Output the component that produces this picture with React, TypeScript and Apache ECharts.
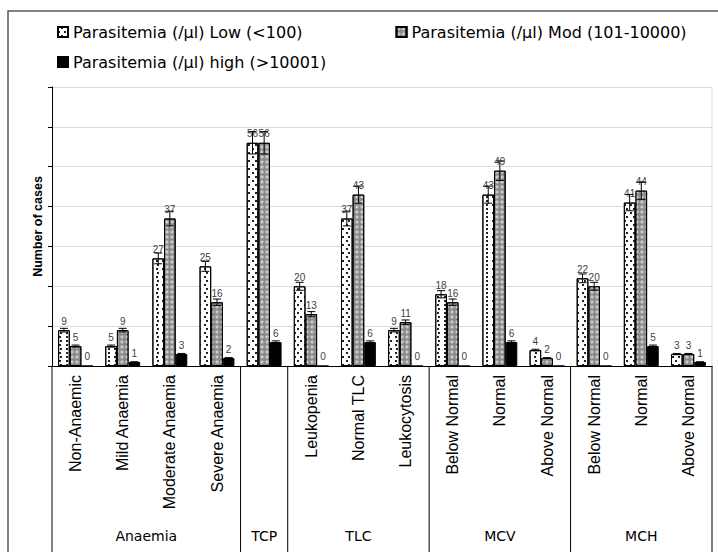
import React, { useEffect, useRef } from "react";
import * as echarts from "echarts";

const categories = [
  "Non-Anaemic", "Mild Anaemia", "Moderate Anaemia", "Severe Anaemia",
  "",
  "Leukopenia", "Normal TLC", "Leukocytosis",
  "Below Normal", "Normal", "Above Normal",
  "Below Normal", "Normal", "Above Normal",
];
const groupNames = ["Anaemia", "TCP", "TLC", "MCV", "MCH"];
const groupSizes = [4, 1, 3, 3, 3];

const seriesNames = [
  "Parasitemia (/µl) Low (<100)",
  "Parasitemia (/µl) Mod (101-10000)",
  "Parasitemia (/µl) high (>10001)",
];
const lowValues = [9, 5, 27, 25, 56, 20, 37, 9, 18, 43, 4, 22, 41, 3];
const modValues = [5, 9, 37, 16, 56, 13, 43, 11, 16, 49, 2, 20, 44, 3];
const highValues = [0, 1, 3, 2, 6, 0, 6, 0, 0, 6, 0, 0, 5, 1];
const errorPercent = 0.05; // Excel "percentage" error bars (5%)

const yMin = 0;
const yMax = 70;
const yInterval = 10;

const GAP = 0.26;

export default function App() {
  const ref = useRef<HTMLDivElement>(null);

  useEffect(() => {
    if (!ref.current) return;
    const chart = echarts.init(ref.current, undefined, { renderer: "svg" });

    const labelCommon = {
      show: true,
      position: "top" as const,
      distance: 4,
      fontSize: 10,
      color: "#404040",
      fontFamily: "Liberation Sans, Arial, sans-serif",
    };

    const lowStyle = {
      color: "#ffffff",
      borderColor: "#000000",
      borderWidth: 1,
      decal: {
        symbol: "rect",
        symbolSize: 1,
        color: "#222222",
        dashArrayX: [[1.4, 3.6], [0, 2.5, 1.4, 1.1]],
        dashArrayY: [1.4, 1.8],
        rotation: 0,
      },
    };
    const modStyle = {
      color: "#8a8a8a",
      borderColor: "#000000",
      borderWidth: 1,
      decal: {
        symbol: "circle",
        symbolSize: 0.8,
        color: "rgba(255,255,255,0.55)",
        dashArrayX: [4, 1],
        dashArrayY: [4, 1],
        rotation: 0,
      },
    };
    const highStyle = { color: "#000000", borderColor: "#000000", borderWidth: 1 };

    const errData = categories.map((_, i) => [i, lowValues[i], modValues[i], highValues[i]]);

    const legendText = {
      fontFamily: "DejaVu Sans, sans-serif",
      fontSize: 16,
      color: "#000000",
    };

    chart.setOption({
      animation: false,
      backgroundColor: "#ffffff",
      legend: [
        {
          data: [seriesNames[0], seriesNames[1]],
          left: 52,
          top: 19,
          itemWidth: 10,
          itemHeight: 10,
          itemGap: 93,
          icon: "rect",
          textStyle: legendText,
          selectedMode: false,
        },
        {
          data: [seriesNames[2]],
          left: 52,
          top: 49,
          itemWidth: 10,
          itemHeight: 10,
          icon: "rect",
          textStyle: legendText,
          selectedMode: false,
        },
      ],
      grid: { left: 52, right: 6, top: 87, bottom: 186, containLabel: false },
      xAxis: {
        type: "category",
        data: categories,
        axisLine: { show: true, lineStyle: { color: "#000000", width: 1 } },
        axisTick: { show: false },
        axisLabel: {
          rotate: 90,
          interval: 0,
          margin: 9,
          fontSize: 16,
          color: "#000000",
          fontFamily: "Liberation Sans, Arial, sans-serif",
        },
        splitLine: { show: false },
      },
      yAxis: {
        type: "value",
        min: yMin,
        max: yMax,
        interval: yInterval,
        name: "Number of cases",
        nameLocation: "middle",
        nameGap: 8,
        nameTextStyle: {
          fontFamily: "Liberation Sans, Arial, sans-serif",
          fontWeight: "bold",
          fontSize: 12.5,
          color: "#000000",
        },
        axisLine: { show: true, lineStyle: { color: "#000000", width: 1 } },
        axisTick: { show: true, inside: false, length: 4, lineStyle: { color: "#000000" } },
        axisLabel: { show: false },
        splitLine: { show: true, lineStyle: { color: "#d9d9d9", width: 1 } },
      },
      series: [
        {
          name: seriesNames[0],
          type: "bar",
          data: lowValues,
          barGap: "0%",
          barCategoryGap: `${GAP * 100}%`,
          itemStyle: lowStyle,
          label: labelCommon,
        },
        {
          name: seriesNames[1],
          type: "bar",
          data: modValues,
          barGap: "0%",
          barCategoryGap: `${GAP * 100}%`,
          itemStyle: modStyle,
          label: labelCommon,
        },
        {
          name: seriesNames[2],
          type: "bar",
          data: highValues,
          barGap: "0%",
          barCategoryGap: `${GAP * 100}%`,
          itemStyle: highStyle,
          label: labelCommon,
        },
        {
          type: "custom",
          name: "errors",
          data: errData,
          encode: { x: 0, y: 1 },
          z: 5,
          silent: true,
          renderItem: (params: any, api: any) => {
            const i = api.value(0);
            const band = api.size([1, 0])[0];
            const barW = (band * (1 - GAP)) / 3;
            const cx0 = api.coord([i, 0])[0];
            const children: any[] = [];
            const cap = 4;
            for (let s = 0; s < 3; s++) {
              const v = api.value(s + 1);
              if (!v) continue;
              const e = v * errorPercent;
              const x = cx0 + (s - 1) * barW;
              const yTop = api.coord([i, v + e])[1];
              const yBot = api.coord([i, v - e])[1];
              const st = { stroke: "#000000", lineWidth: 1 };
              children.push({ type: "line", shape: { x1: x, y1: yTop, x2: x, y2: yBot }, style: st });
              children.push({ type: "line", shape: { x1: x - cap, y1: yTop, x2: x + cap, y2: yTop }, style: st });
              children.push({ type: "line", shape: { x1: x - cap, y1: yBot, x2: x + cap, y2: yBot }, style: st });
            }
            return { type: "group", children };
          },
        },
      ],
    });

    // group separators and labels, from the axis scale
    const xPix = (i: number) => chart.convertToPixel({ xAxisIndex: 0 }, i) as number;
    const band = xPix(1) - xPix(0);
    const y0 = chart.convertToPixel({ yAxisIndex: 0 }, yMin) as number;
    const yTopPix = chart.convertToPixel({ yAxisIndex: 0 }, yMax) as number;
    const bounds: number[] = [xPix(0) - band / 2];
    let idx = 0;
    groupSizes.forEach((n) => {
      idx += n;
      bounds.push(xPix(idx - 1) + band / 2);
    });
    const graphics: any[] = [
      {
        type: "rect",
        shape: { x: 8, y: 11, width: 760, height: 600 },
        style: { fill: "none", stroke: "#595959", lineWidth: 1.5 },
        silent: true,
      },
      {
        type: "line",
        shape: { x1: bounds[bounds.length - 1], y1: yTopPix, x2: bounds[bounds.length - 1], y2: y0 },
        style: { stroke: "#d9d9d9", lineWidth: 1 },
        silent: true,
      },
    ];
    bounds.forEach((b) => {
      graphics.push({
        type: "line",
        shape: { x1: b, y1: y0, x2: b, y2: 560 },
        style: { stroke: "#000000", lineWidth: 1 },
        silent: true,
      });
    });
    groupNames.forEach((g, k) => {
      graphics.push({
        type: "text",
        x: (bounds[k] + bounds[k + 1]) / 2,
        y: 536,
        style: {
          text: g,
          fontFamily: "DejaVu Sans, sans-serif",
          fontSize: 14,
          fill: "#000000",
          align: "center",
          verticalAlign: "middle",
        },
        silent: true,
      });
    });
    chart.setOption({ graphic: graphics });

    return () => chart.dispose();
  }, []);

  return (
    <div
      ref={ref}
      style={{ position: "absolute", left: 0, top: 0, width: 718, height: 552, background: "#fff" }}
    />
  );
}
